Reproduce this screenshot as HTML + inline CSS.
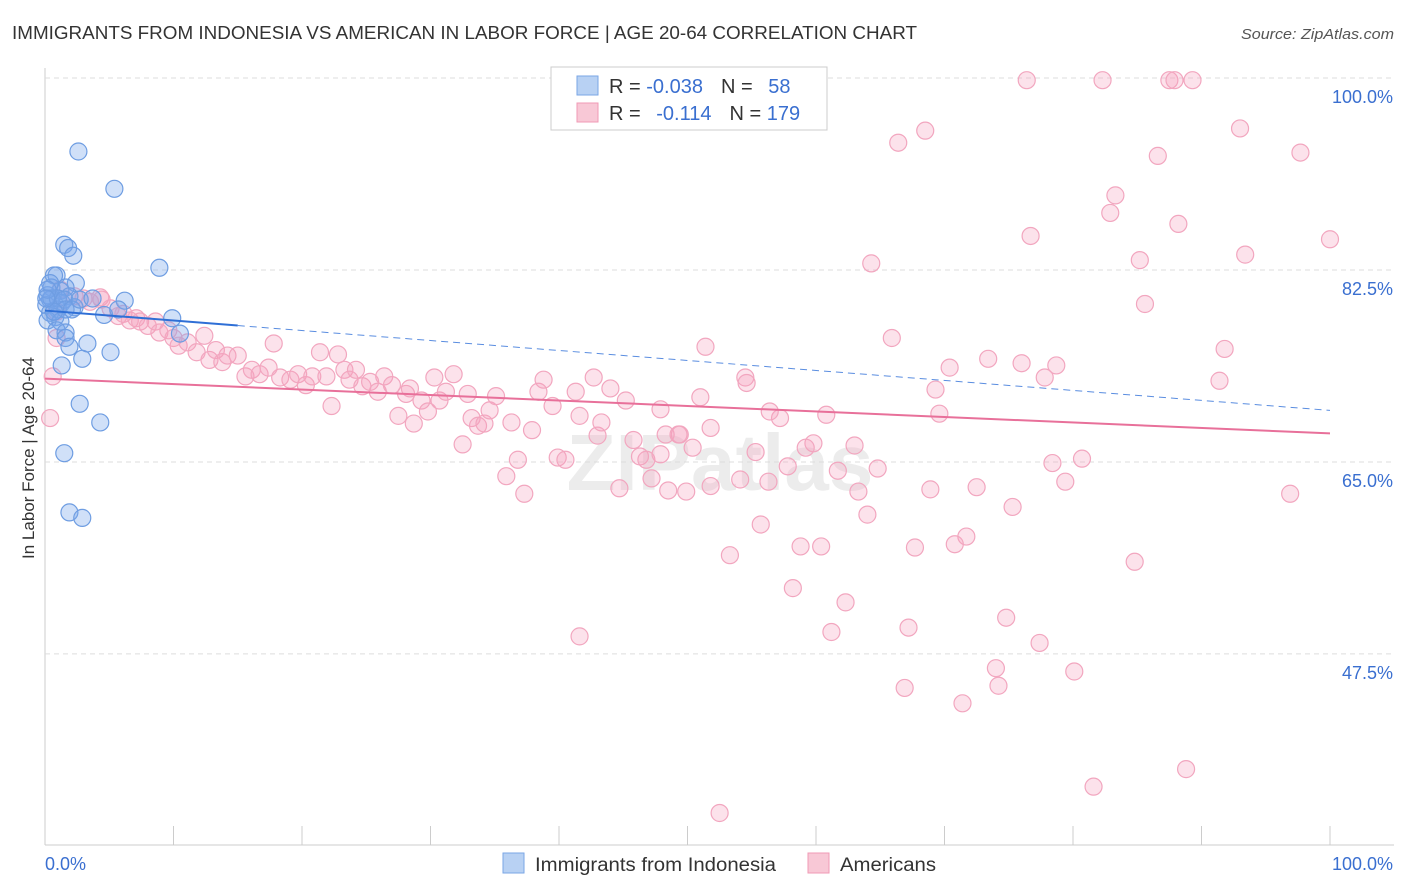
<!DOCTYPE html>
<html><head><meta charset="utf-8"><style>
body{margin:0;background:#fff;font-family:"Liberation Sans",sans-serif;}
#wrap{position:relative;width:1406px;height:892px;overflow:hidden;}
</style></head><body>
<div id="wrap">
<svg id="chart" width="1406" height="892">
<text x="12" y="39" font-size="18" fill="#333" textLength="905" lengthAdjust="spacingAndGlyphs">IMMIGRANTS FROM INDONESIA VS AMERICAN IN LABOR FORCE | AGE 20-64 CORRELATION CHART</text>
<text x="1394" y="39" font-size="15" fill="#555" font-style="italic" text-anchor="end" textLength="153" lengthAdjust="spacingAndGlyphs">Source: ZipAtlas.com</text>
<text x="720" y="490" font-size="80" fill="#000" opacity="0.07" text-anchor="middle" font-weight="bold">ZIPatlas</text>
<text transform="translate(34,458) rotate(-90)" font-size="17" fill="#333" text-anchor="middle">In Labor Force | Age 20-64</text>
<g id="grid"></g><g id="pts"></g><g id="lines"></g>
<g>
<rect x="551" y="67" width="276" height="63" fill="#fff" stroke="#ccc"/>
<rect x="577" y="76" width="21" height="19" fill="#b8d1f3" stroke="#7aa6e6"/>
<rect x="577" y="103" width="21" height="19" fill="#f8c8d6" stroke="#f09ab5"/>
<text x="609" y="93" font-size="20" fill="#333">R = <tspan fill="#3a6fd0">-0.038</tspan><tspan dx="18">N = </tspan><tspan fill="#3a6fd0" dx="10">58</tspan></text>
<text x="609" y="120" font-size="20" fill="#333">R = <tspan fill="#3a6fd0" dx="10">-0.114</tspan><tspan dx="18">N = </tspan><tspan fill="#3a6fd0">179</tspan></text>
</g>
<g>
<rect x="503" y="853" width="21" height="20" fill="#b8d1f3" stroke="#7aa6e6"/>
<text x="535" y="871" font-size="19" fill="#333" textLength="241" lengthAdjust="spacingAndGlyphs">Immigrants from Indonesia</text>
<rect x="808" y="853" width="21" height="20" fill="#f8c8d6" stroke="#f09ab5"/>
<text x="840" y="871" font-size="19" fill="#333" textLength="96" lengthAdjust="spacingAndGlyphs">Americans</text>
</g>
</svg></div>
<script>
const yTicks=[100,82.5,65,47.5];
const yTickLabels=["100.0%","82.5%","65.0%","47.5%"];
const xTickLabels=["0.0%","100.0%"];
const blueX=[2.6,5.4,1.5,1.8,2.2,8.9,0.9,0.7,2.4,1.6,0.5,1.2,0.2,1.9,0.4,6.2,1.3,0.1,2.3,1.0,0.4,4.6,9.9,0.8,0.2,1.2,0.9,1.6,10.5,1.6,1.9,3.3,5.1,2.9,1.3,2.7,4.3,1.5,1.9,2.9,0.4,0.5,1.0,1.5,1.6,0.7,2.1,2.7,5.7,3.7,0.2,0.1];
const blueY=[93.3,89.9,84.8,84.5,83.8,82.7,82.0,82.0,81.3,80.9,80.9,80.6,80.2,80.1,79.8,79.7,79.5,79.3,79.1,78.9,78.6,78.4,78.1,78.2,77.9,77.8,77.0,76.8,76.7,76.3,75.5,75.8,75.0,74.4,73.8,70.3,68.6,65.8,60.4,59.9,81.3,79.9,79.9,79.8,78.9,78.7,78.9,79.8,78.9,79.9,80.7,79.9];
const pinkX=[76.4,82.3,87.5,87.9,89.3,68.5,66.4,93.0,86.6,97.7,83.3,82.9,88.2,76.7,100,93.4,85.2,64.3,85.6,65.9,51.4,91.8,73.4,76.0,78.7,70.4,77.8,91.4,54.5,54.6,69.3,51.0,69.6,60.8,57.2,56.4,47.9,51.8,49.4,48.3,55.3,63.0,59.8,59.2,61.7,64.8,63.3,68.9,72.5,78.4,80.7,79.4,96.9,75.3,64.0,55.7,53.3,58.8,60.4,67.7,71.7,70.8,84.8,58.2,62.3,74.8,67.2,61.2,77.4,74.0,80.1,74.2,66.9,71.4,88.8,81.6,52.5,41.6,0.9,1.2,2.3,3.0,3.5,4.3,4.4,5.1,5.7,6.1,6.6,7.1,7.4,8.0,8.6,8.9,9.6,10.0,10.4,11.1,11.8,12.4,12.8,13.3,13.8,14.2,15.0,15.6,16.1,16.7,17.4,17.8,18.3,19.1,19.7,20.3,20.8,21.4,21.9,22.3,22.8,23.3,23.7,24.2,24.7,25.3,25.9,26.4,27.0,27.5,28.1,28.4,28.7,29.3,29.8,30.3,30.7,31.2,31.8,32.5,32.9,33.2,33.7,34.2,34.6,35.1,35.9,36.3,36.8,37.3,37.9,38.4,38.8,39.5,39.9,40.5,41.3,41.6,42.7,43.0,43.3,44.0,44.7,45.2,45.8,46.3,46.8,47.2,47.9,48.5,49.3,49.9,50.4,51.8,54.1,56.3,57.8,0.6,0.4,0.9];
const pinkY=[99.8,99.8,99.8,99.8,99.8,95.2,94.1,95.4,92.9,93.2,89.3,87.7,86.7,85.6,85.3,83.9,83.4,83.1,79.4,76.3,75.5,75.3,74.4,74.0,73.8,73.6,72.7,72.4,72.7,72.2,71.6,70.9,69.4,69.3,69.0,69.6,69.8,68.1,67.5,67.5,65.9,66.5,66.7,66.3,64.2,64.4,62.3,62.5,62.7,64.9,65.3,63.2,62.1,60.9,60.2,59.3,56.5,57.3,57.3,57.2,58.2,57.5,55.9,53.5,52.2,50.8,49.9,49.5,48.5,46.2,45.9,44.6,44.4,43.0,37.0,35.4,33.0,49.1,78.7,80.7,80.1,79.9,79.6,80.0,79.8,79.0,78.3,78.5,77.9,78.1,77.8,77.4,77.8,76.8,77.0,76.3,75.6,75.9,75.0,76.5,74.3,75.2,74.1,74.7,74.7,72.8,73.4,73.0,73.6,75.8,72.7,72.5,73.0,72.0,72.8,75.0,72.8,70.1,74.8,73.4,72.5,73.4,71.9,72.3,71.4,72.8,72.0,69.2,71.2,71.7,68.5,70.6,69.6,72.7,70.6,71.4,73.0,66.6,71.2,69.0,68.3,68.5,69.7,71.0,63.7,68.6,65.2,62.1,67.9,71.4,72.5,70.1,65.4,65.2,71.4,69.2,72.7,67.4,68.6,71.7,62.6,70.6,67.0,65.5,65.2,63.5,65.7,62.4,67.5,62.3,66.3,62.8,63.4,63.2,64.6,72.8,69.0,76.3];
const blueTrend=[78.8,69.7];
const pinkTrend=[72.6,67.6];
const NS="http://www.w3.org/2000/svg";
const X=v=>45+v*12.85, Y=v=>78+(100-v)*10.97;
function mk(t,a,p){const e=document.createElementNS(NS,t);for(const k in a)e.setAttribute(k,a[k]);p.appendChild(e);return e;}
const grid=document.getElementById('grid');
mk('line',{x1:45,y1:68,x2:45,y2:845,stroke:'#ccc'},grid);
mk('line',{x1:45,y1:845,x2:1394,y2:845,stroke:'#ccc'},grid);
for(let i=0;i<=10;i++){const l=mk('line',{x1:X(i*10),y1:826,x2:X(i*10),y2:845,stroke:'#ccc'},grid);

}
yTicks.forEach((v,i)=>{const l=mk('line',{x1:45,y1:Y(v),x2:1394,y2:Y(v),stroke:'#ddd','stroke-dasharray':'5,4'},grid);


const t=mk('text',{x:1393,y:Y(v)+25,'font-size':18,fill:'#3a6fd0','text-anchor':'end'},grid);t.textContent=yTickLabels[i];

});
[[0,'start',45],[100,'end',1393]].forEach((d,i)=>{const t=mk('text',{x:d[2],y:870,'font-size':18,fill:'#3a6fd0','text-anchor':d[1]},grid);t.textContent=xTickLabels[i];

});
const pts=document.getElementById('pts');
pinkX.forEach((x,i)=>{const c=mk('circle',{cx:X(x),cy:Y(pinkY[i]),r:8.5,fill:'rgba(244,160,188,0.3)',stroke:'#f2a6bf','stroke-width':1.2},pts);

});
blueX.forEach((x,i)=>{const c=mk('circle',{cx:X(x),cy:Y(blueY[i]),r:8.5,fill:'rgba(120,165,235,0.35)',stroke:'#6e9de2','stroke-width':1.2},pts);

});
const lines=document.getElementById('lines');
const by=x=>blueTrend[0]+(blueTrend[1]-blueTrend[0])*x/100;
let l=mk('line',{x1:X(0),y1:Y(by(0)),x2:X(15),y2:Y(by(15)),stroke:'#2f6fd6','stroke-width':2},lines);


l=mk('line',{x1:X(15),y1:Y(by(15)),x2:X(100),y2:Y(by(100)),stroke:'#5a8de0','stroke-width':1,'stroke-dasharray':'7,5'},lines);


l=mk('line',{x1:X(0),y1:Y(pinkTrend[0]),x2:X(100),y2:Y(pinkTrend[1]),stroke:'#e8709a','stroke-width':2},lines);


</script>
</body></html>
